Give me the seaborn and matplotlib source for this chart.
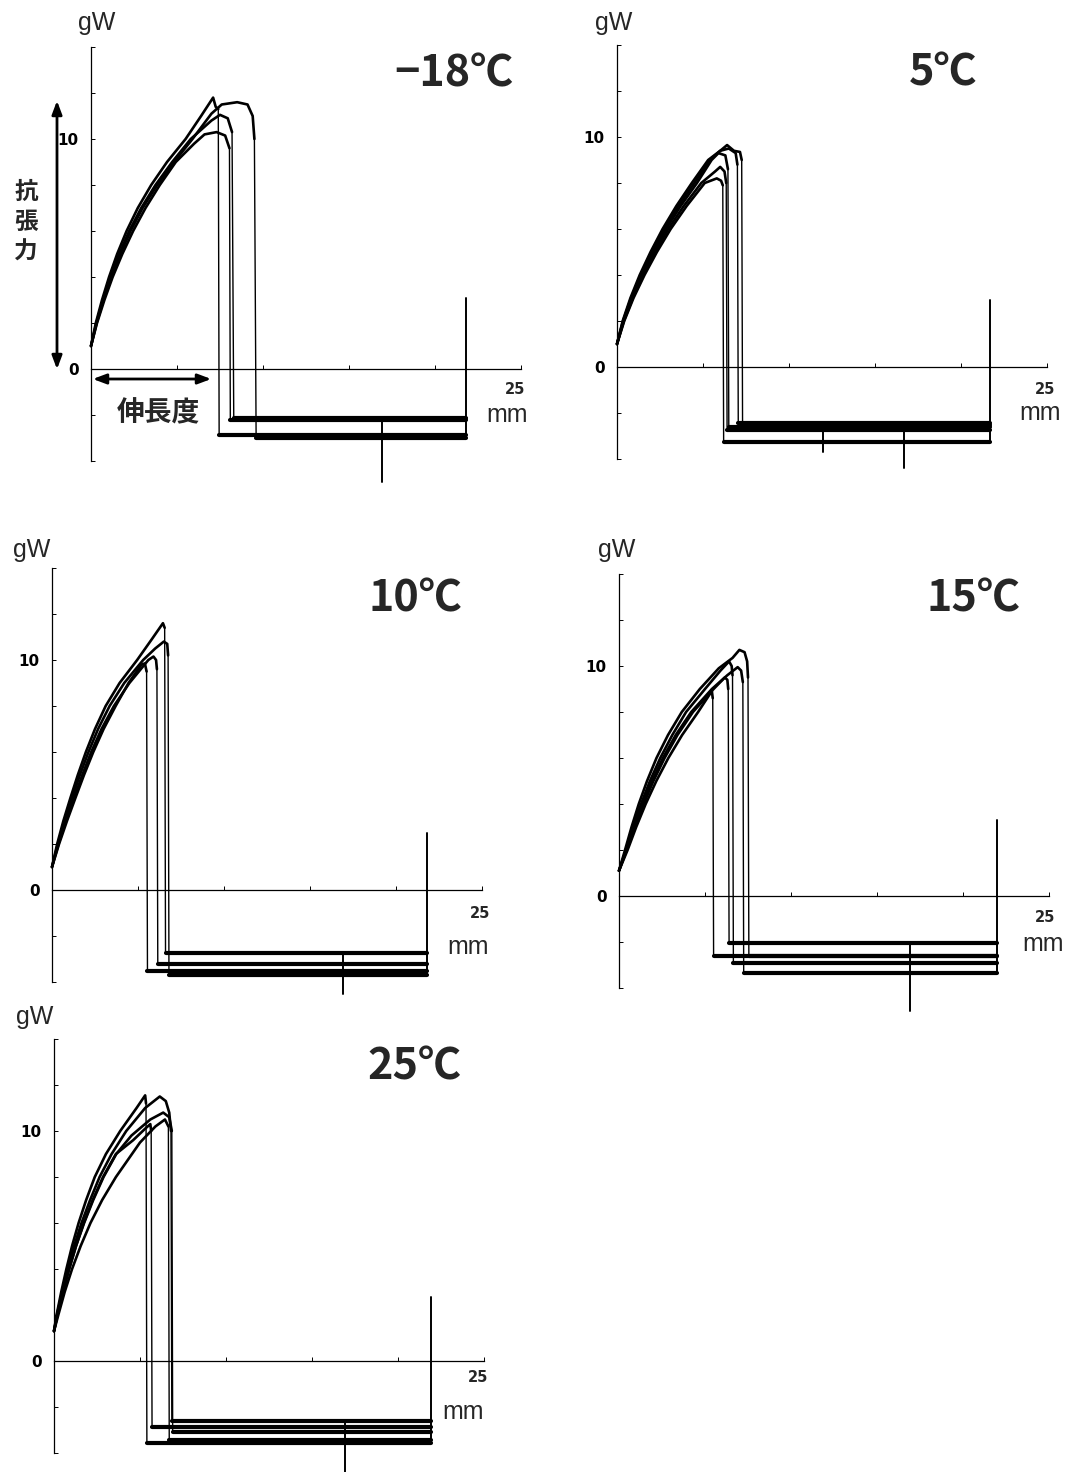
import matplotlib
matplotlib.use("Agg")
import matplotlib.pyplot as plt
import numpy as np
import pandas as pd
import seaborn as sns

# ---------------- data ----------------
PANEL_TITLES = ["\u221218\u2103", "5\u2103", "10\u2103", "15\u2103", "25\u2103"]

# elongation (mm) / tension (gW) per sample; the last point is the level after the break
M18_X = [[0, 0.28, 0.64, 1.05, 1.52, 2.07, 2.72, 3.5, 4.42, 5.5, 6.4, 7.1, 7.25, 7.4, 7.45],
         [0, 0.33, 0.73, 1.18, 1.7, 2.3, 3.0, 3.85, 4.83, 5.9, 7.0, 7.6, 8.5, 9.1, 9.4, 9.5, 9.6],
         [0, 0.31, 0.7, 1.14, 1.64, 2.22, 2.92, 3.75, 4.72, 5.8, 7.0, 7.5, 7.95, 8.2, 8.3],
         [0, 0.35, 0.78, 1.26, 1.82, 2.45, 3.17, 4.0, 4.93, 6.0, 6.6, 7.3, 7.8, 8.05, 8.1]]
M18_Y = [[1.0, 2.0, 3.0, 4.0, 5.0, 6.0, 7.0, 8.0, 9.0, 10.0, 11.0, 11.8, 11.4, 11.3, -2.85],
         [1.0, 2.0, 3.0, 4.0, 5.0, 6.0, 7.0, 8.0, 9.0, 10.0, 11.1, 11.5, 11.6, 11.5, 11.0, 10.0, -3.0],
         [1.0, 2.0, 3.0, 4.0, 5.0, 6.0, 7.0, 8.0, 9.0, 10.0, 10.8, 11.05, 10.9, 10.3, -2.15],
         [1.0, 2.0, 3.0, 4.0, 5.0, 6.0, 7.0, 8.0, 9.0, 9.8, 10.2, 10.3, 10.15, 9.6, -2.2]]

P5_X = [[0, 0.42, 0.96, 1.6, 2.32, 3.12, 4.05, 5.1, 5.8, 6.05, 6.15, 6.2],
        [0, 0.4, 0.92, 1.52, 2.2, 2.98, 3.88, 4.9, 5.7, 6.0, 6.25, 6.35, 6.4],
        [0, 0.37, 0.86, 1.44, 2.1, 2.85, 3.7, 4.65, 5.5, 5.9, 6.3, 6.45, 6.5],
        [0, 0.35, 0.82, 1.38, 2.03, 2.75, 3.57, 4.5, 5.4, 6.0, 6.5, 6.9, 7.0, 7.05],
        [0, 0.33, 0.78, 1.32, 1.95, 2.65, 3.45, 4.35, 5.3, 6.0, 6.4, 6.8, 7.15, 7.25, 7.3]]
P5_Y = [[1.0, 2.0, 3.0, 4.0, 5.0, 6.0, 7.0, 8.0, 8.2, 8.1, 7.9, -3.25],
        [1.0, 2.0, 3.0, 4.0, 5.0, 6.0, 7.0, 8.0, 8.5, 8.7, 8.5, 8.0, -2.75],
        [1.0, 2.0, 3.0, 4.0, 5.0, 6.0, 7.0, 8.0, 9.0, 9.3, 9.2, 8.6, -2.6],
        [1.0, 2.0, 3.0, 4.0, 5.0, 6.0, 7.0, 8.0, 9.0, 9.4, 9.5, 9.3, 8.8, -2.45],
        [1.0, 2.0, 3.0, 4.0, 5.0, 6.0, 7.0, 8.0, 9.0, 9.4, 9.65, 9.4, 9.35, 9.0, -2.5]]

P10_X = [[0, 0.3, 0.66, 1.07, 1.5, 1.97, 2.5, 3.12, 3.93, 4.95, 5.8, 6.45, 6.55, 6.6],
         [0, 0.34, 0.74, 1.17, 1.62, 2.12, 2.68, 3.35, 4.2, 5.3, 6.0, 6.5, 6.7, 6.75, 6.8],
         [0, 0.38, 0.81, 1.28, 1.76, 2.28, 2.88, 3.6, 4.5, 5.6, 5.9, 6.05, 6.1, 6.15],
         [0, 0.41, 0.87, 1.36, 1.86, 2.4, 3.0, 3.7, 4.45, 5.2, 5.4, 5.5, 5.55]]
P10_Y = [[1.0, 2.0, 3.0, 4.0, 5.0, 6.0, 7.0, 8.0, 9.0, 10.0, 10.9, 11.6, 11.4, -2.75],
         [1.0, 2.0, 3.0, 4.0, 5.0, 6.0, 7.0, 8.0, 9.0, 10.0, 10.5, 10.8, 10.7, 10.2, -3.7],
         [1.0, 2.0, 3.0, 4.0, 5.0, 6.0, 7.0, 8.0, 9.0, 10.0, 10.15, 10.0, 9.6, -3.2],
         [1.0, 2.0, 3.0, 4.0, 5.0, 6.0, 7.0, 8.0, 9.0, 9.8, 9.85, 9.5, -3.5]]

P15_X = [[0, 0.5, 1.0, 1.55, 2.17, 2.87, 3.67, 4.6, 5.3, 5.4, 5.45, 5.5],
         [0, 0.45, 0.92, 1.43, 2.0, 2.65, 3.4, 4.3, 5.5, 6.15, 6.3, 6.35, 6.4],
         [0, 0.4, 0.82, 1.28, 1.8, 2.4, 3.1, 3.9, 5.0, 5.9, 6.4, 6.55, 6.6, 6.65],
         [0, 0.43, 0.88, 1.37, 1.92, 2.55, 3.3, 4.2, 5.4, 6.3, 6.9, 7.1, 7.2, 7.25],
         [0, 0.35, 0.73, 1.15, 1.63, 2.18, 2.85, 3.65, 4.7, 5.8, 6.6, 7.0, 7.3, 7.45, 7.5, 7.55]]
P15_Y = [[1.1, 2.0, 3.0, 4.0, 5.0, 6.0, 7.0, 8.0, 8.8, 8.9, 8.6, -2.6],
         [1.1, 2.0, 3.0, 4.0, 5.0, 6.0, 7.0, 8.0, 9.0, 9.5, 9.4, 9.0, -2.05],
         [1.1, 2.0, 3.0, 4.0, 5.0, 6.0, 7.0, 8.0, 9.0, 9.8, 10.2, 10.0, 9.6, -2.9],
         [1.1, 2.0, 3.0, 4.0, 5.0, 6.0, 7.0, 8.0, 9.0, 9.6, 9.95, 9.8, 9.3, -3.35],
         [1.1, 2.0, 3.0, 4.0, 5.0, 6.0, 7.0, 8.0, 9.0, 9.9, 10.35, 10.7, 10.6, 10.2, 9.5, -2.6]]

P25_X = [[0, 0.15, 0.42, 0.72, 1.05, 1.43, 1.87, 2.37, 3.02, 3.85, 4.8, 5.3, 5.35, 5.4],
         [0, 0.2, 0.52, 0.88, 1.28, 1.73, 2.25, 2.85, 3.6, 4.6, 5.3, 5.6, 5.65, 5.7],
         [0, 0.17, 0.47, 0.8, 1.17, 1.6, 2.1, 2.65, 3.35, 4.2, 5.3, 6.15, 6.5, 6.7, 6.8, 6.85],
         [0, 0.2, 0.52, 0.88, 1.28, 1.75, 2.28, 2.88, 3.62, 4.5, 5.6, 6.35, 6.7, 6.85, 6.9],
         [0, 0.25, 0.62, 1.05, 1.55, 2.12, 2.8, 3.6, 4.3, 5.0, 5.9, 6.45, 6.65, 6.7]]
P25_Y = [[1.3, 2.0, 3.0, 4.0, 5.0, 6.0, 7.0, 8.0, 9.0, 10.0, 11.0, 11.55, 11.2, -3.55],
         [1.3, 2.0, 3.0, 4.0, 5.0, 6.0, 7.0, 8.0, 9.0, 9.6, 10.1, 10.3, 10.0, -2.85],
         [1.3, 2.0, 3.0, 4.0, 5.0, 6.0, 7.0, 8.0, 9.0, 10.0, 11.0, 11.5, 11.3, 10.8, 10.0, -2.6],
         [1.3, 2.0, 3.0, 4.0, 5.0, 6.0, 7.0, 8.0, 9.0, 9.8, 10.5, 10.8, 10.6, 10.0, -3.1],
         [1.3, 2.0, 3.0, 4.0, 5.0, 6.0, 7.0, 8.0, 8.75, 9.5, 10.2, 10.5, 10.2, -3.45]]

# end of record (mm), top of the end stroke (gW), downward spikes (mm, gW)
END_X = [21.8, 21.7, 21.8, 22.0, 21.9]
END_TOP = [3.1, 2.9, 2.5, 3.3, 2.8]
SPIKE_X = [[16.9], [12.0, 16.7], [16.9], [16.9], [16.9]]
SPIKE_Y = [[-4.9], [-3.7, -4.4], [-4.5], [-5.0], [-5.6]]

Y_TICKS = [-4, -2, 0, 2, 4, 6, 8, 10, 12, 14]
Y_TICK_LABELS = ["", "", "0", "", "", "", "", "10", "", ""]
X_TICKS = [0, 5, 10, 15, 20, 25]

ALL_X = [M18_X, P5_X, P10_X, P15_X, P25_X]
ALL_Y = [M18_Y, P5_Y, P10_Y, P15_Y, P25_Y]

# ---------------- layout (pixels) ----------------
W, H = 1072, 1472
ORIGINS = [(91, 369), (617, 367), (52, 890), (619, 896), (54, 1361)]
SX, SY = 17.2, 23.0
GW_POS = [(97, 23), (614, 23), (32, 550), (617, 550), (35, 1017)]
TITLE_POS = [(454, 73), (943, 72), (415, 598), (973, 598), (414, 1066)]
L25_POS = [(515, 390), (1045, 390), (480, 913), (1045, 917), (478, 1378)]
MM_POS = [(507, 415), (1040, 413), (468, 947), (1043, 944), (463, 1412)]

sns.set_theme(style="white")
plt.rcParams["font.family"] = ["Noto Sans CJK JP", "DejaVu Sans"]

fig = plt.figure(figsize=(W / 100, H / 100), dpi=100)
fig.patch.set_facecolor("white")


def fx(x):
    return x / W


def fy(y):
    return 1 - y / H


XL, XR, YB, YT = -1.0, 27.0, -6.5, 15.0


def draw(df, ax, lw):
    sns.lineplot(data=df, x="x", y="y", units="curve", estimator=None, sort=False,
                 color="black", lw=lw, ax=ax, legend=False)


for i in range(5):
    x0, y0 = ORIGINS[i]
    left = x0 + XL * SX
    bottom = y0 - YB * SY
    ax = fig.add_axes([fx(left), fy(bottom), (XR - XL) * SX / W, (YT - YB) * SY / H])
    ax.set_facecolor("none")
    ax.set_xlim(XL, XR)
    ax.set_ylim(YB, YT)

    xs_list, ys_list = ALL_X[i], ALL_Y[i]
    rise, drop, base = [], [], []
    for k, (xs, ys) in enumerate(zip(xs_list, ys_list)):
        for j in range(len(xs) - 1):
            rise.append((k, xs[j], ys[j]))
        drop.append((k, xs[-2], ys[-2]))
        drop.append((k, xs[-1], ys[-1]))
        base.append((k, xs[-1], ys[-1]))
        base.append((k, END_X[i], ys[-1]))
    cols = ["curve", "x", "y"]
    draw(pd.DataFrame(rise, columns=cols), ax, 1.9)
    draw(pd.DataFrame(drop, columns=cols), ax, 1.0)
    draw(pd.DataFrame(base, columns=cols), ax, 3.0)

    bases = [ys[-1] for ys in ys_list]
    extra = [(0, END_X[i], min(bases)), (0, END_X[i], END_TOP[i])]
    for n, (sxv, syv) in enumerate(zip(SPIKE_X[i], SPIKE_Y[i])):
        extra.append((n + 1, sxv, max(bases)))
        extra.append((n + 1, sxv, syv))
    draw(pd.DataFrame(extra, columns=cols), ax, 1.4)

    for s in ["top", "right"]:
        ax.spines[s].set_visible(False)
    ax.spines["left"].set_position(("data", 0))
    ax.spines["bottom"].set_position(("data", 0))
    ax.spines["left"].set_bounds(-4, 14)
    ax.spines["bottom"].set_bounds(0, 25)
    for s in ["left", "bottom"]:
        ax.spines[s].set_color("black")
        ax.spines[s].set_linewidth(0.9)
    ax.set_yticks(Y_TICKS)
    ax.set_yticklabels(Y_TICK_LABELS, fontsize=11, fontweight="bold", family=["DejaVu Sans"])
    ax.set_xticks(X_TICKS)
    ax.set_xticklabels([])
    ax.tick_params(axis="y", direction="in", length=3, width=0.7, pad=9, colors="black", left=True)
    ax.tick_params(axis="x", direction="in", length=3, width=0.7, colors="black", bottom=True)
    ax.set_xlabel("")
    ax.set_ylabel("")

    fig.text(fx(GW_POS[i][0]), fy(GW_POS[i][1]), "gW", fontsize=18, ha="center", va="center",
             family=["Liberation Sans", "DejaVu Sans"])
    fig.text(fx(TITLE_POS[i][0]), fy(TITLE_POS[i][1]), PANEL_TITLES[i], fontsize=31,
             fontweight="bold", ha="center", va="center")
    fig.text(fx(L25_POS[i][0]), fy(L25_POS[i][1]), "25", fontsize=10.5, fontweight="bold",
             ha="center", va="center", family=["DejaVu Sans"])
    fig.text(fx(MM_POS[i][0]), fy(MM_POS[i][1]), "mm", fontsize=18, ha="center", va="center",
             family=["Liberation Sans", "DejaVu Sans"])

# annotations of the first panel
fig.text(fx(26), fy(222), "抗\n張\n力", fontsize=17, fontweight="bold", ha="center",
         va="center", linespacing=1.3)
fig.text(fx(158), fy(413), "伸長度", fontsize=20, fontweight="bold", ha="center", va="center")
fig.add_artist(matplotlib.patches.FancyArrowPatch(
    (fx(57), fy(98)), (fx(57), fy(372)), transform=fig.transFigure,
    arrowstyle="<|-|>,head_length=8,head_width=3", color="black", lw=2))
fig.add_artist(matplotlib.patches.FancyArrowPatch(
    (fx(90), fy(379)), (fx(214), fy(379)), transform=fig.transFigure,
    arrowstyle="<|-|>,head_length=8,head_width=3", color="black", lw=2))

fig.savefig("out.png", dpi=100, facecolor="white")
